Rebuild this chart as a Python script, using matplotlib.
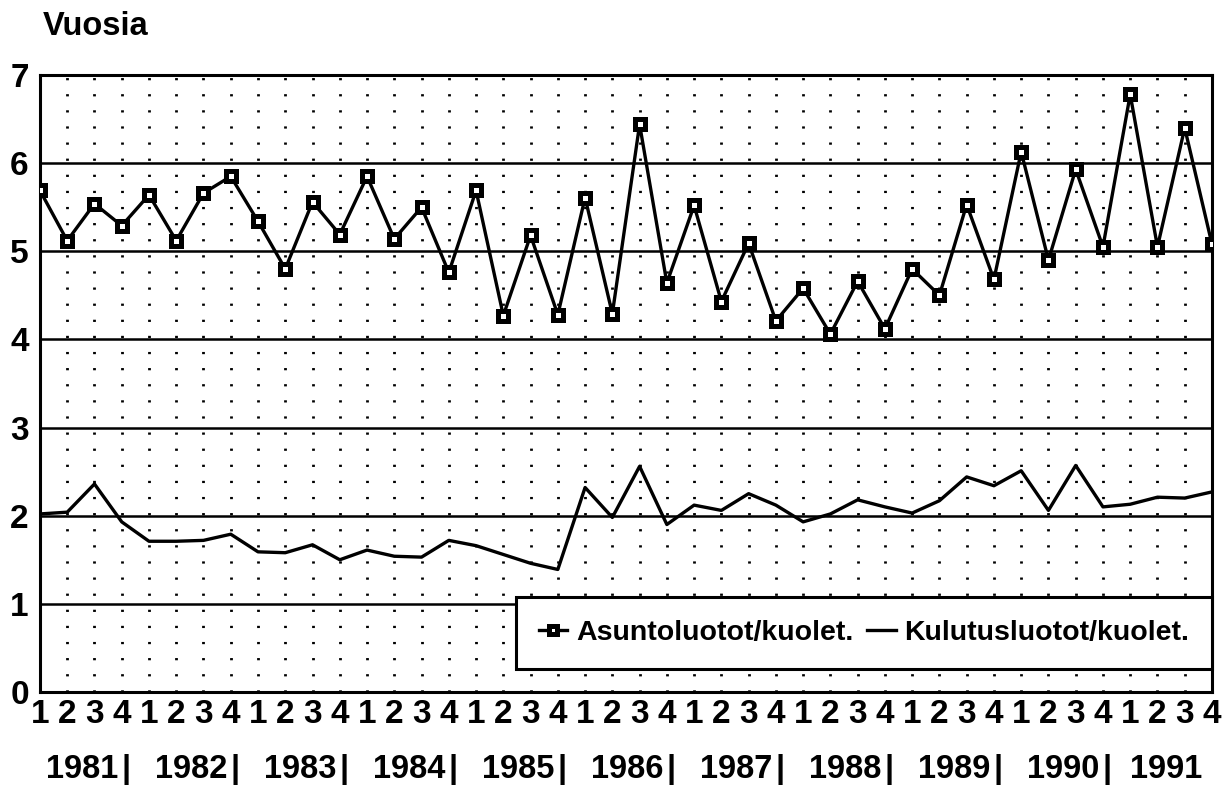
import numpy as np
import matplotlib.pyplot as plt

plt.rcParams['font.family'] = ['Liberation Sans', 'DejaVu Sans']
plt.rcParams['font.weight'] = 'bold'

quarters = ["1", "2", "3", "4"] * 11
years = ["1981", "1982", "1983", "1984", "1985", "1986",
         "1987", "1988", "1989", "1990", "1991"]

asunto = [5.69, 5.12, 5.54, 5.29, 5.64, 5.12, 5.66, 5.85, 5.34, 4.80, 5.56,
          5.19, 5.85, 5.14, 5.50, 4.76, 5.69, 4.27, 5.18, 4.28, 5.61, 4.29,
          6.44, 4.64, 5.52, 4.43, 5.09, 4.21, 4.58, 4.06, 4.66, 4.12, 4.80,
          4.50, 5.53, 4.68, 6.13, 4.90, 5.93, 5.05, 6.78, 5.05, 6.40, 5.08]
kulutus = [2.02, 2.04, 2.36, 1.93, 1.71, 1.71, 1.72, 1.79, 1.59, 1.58, 1.67,
           1.50, 1.61, 1.54, 1.53, 1.72, 1.66, 1.56, 1.46, 1.39, 2.32, 1.98,
           2.56, 1.90, 2.12, 2.06, 2.25, 2.12, 1.93, 2.02, 2.18, 2.10, 2.03,
           2.17, 2.44, 2.34, 2.51, 2.06, 2.57, 2.10, 2.13, 2.21, 2.20, 2.27]

x = np.arange(1, len(asunto) + 1)

fig = plt.figure(figsize=(12.22, 7.93), dpi=100)
ax = fig.add_axes([0.0327, 0.1274, 0.9591, 0.778])

# dotted vertical grid at every quarter
ax.vlines(x[1:-1], 0, 7, colors="black", linewidth=2.0,
          linestyles=(0, (0.8, 5.0)), zorder=1)
# solid horizontal grid
ax.hlines(np.arange(1, 7), 1, 44, colors="black", linewidth=1.8, zorder=1)

ax.plot(x, asunto, color="black", linewidth=2.4, marker="s", markersize=7.5,
        markerfacecolor="white", markeredgecolor="black", markeredgewidth=3.6,
        label="Asuntoluotot/kuolet.", zorder=3)
ax.plot(x, kulutus, color="black", linewidth=2.4,
        label="Kulutusluotot/kuolet.", zorder=3)

ax.set_xlim(1, 44)
ax.set_ylim(0, 7)
ax.set_yticks(range(8))
ax.set_xticks(x)
ax.set_xticklabels(quarters)
ax.tick_params(axis="both", length=0, labelsize=24)
ax.tick_params(axis="y", pad=8)
ax.tick_params(axis="x", pad=5)
for s in ax.spines.values():
    s.set_linewidth(2.2)

# year row: "1981| 1982| ... 1991"
xt = ax.get_xaxis_transform()
for i, yr in enumerate(years):
    last = i == len(years) - 1
    ax.text(4 * i + (2.3 if last else 2.55), -0.125, yr, transform=xt,
            ha="center", va="center", fontsize=23.5)
    if not last:
        ax.text(4 * i + 4.15, -0.125, "|", transform=xt,
                ha="center", va="center", fontsize=23.5)

fig.text(0.035, 0.966, "Vuosia", fontsize=23.5, ha="left", va="center")

leg = ax.legend(loc="lower right", bbox_to_anchor=(1.0, 0.038),
                ncol=2, fontsize=20.5, frameon=True,
                fancybox=False, edgecolor="black", handlelength=1.0,
                handletextpad=0.3, columnspacing=0.5, borderaxespad=0,
                borderpad=0.8, markerscale=0.75)
leg.get_frame().set_linewidth(2.2)
leg.get_frame().set_alpha(1)
leg.set_zorder(5)

fig.savefig("out.png", dpi=100)
